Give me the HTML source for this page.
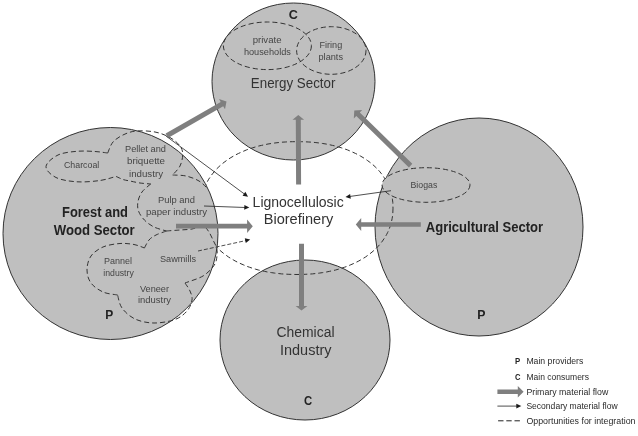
<!DOCTYPE html>
<html><head><meta charset="utf-8">
<style>
html,body{margin:0;padding:0;background:#fff;}
svg{display:block;filter:blur(0.35px);}
text{font-family:"Liberation Sans",sans-serif;}
.g{fill:#bfbfbf;stroke:#333;stroke-width:1;}
.d{fill:none;stroke:#333;stroke-width:1;stroke-dasharray:5 3;}
.df{fill:#bfbfbf;stroke:#333;stroke-width:1;stroke-dasharray:5 3;}
.a{fill:#7f7f7f;}
</style></head><body>
<svg width="638" height="436" viewBox="0 0 638 436">
<rect width="638" height="436" fill="#fff"/>
<ellipse class="g" cx="293.5" cy="81.5" rx="81.5" ry="78.5"/>
<ellipse class="g" cx="479" cy="227" rx="104" ry="109"/>
<ellipse class="g" cx="305" cy="340" rx="85" ry="80"/>
<path class="d" d="M393.0,208.1 L392.9,211.0 L392.8,213.7 L392.5,216.2 L392.1,218.7 L391.6,221.1 L391.1,223.5 L390.4,225.8 L389.5,228.1 L388.6,230.4 L387.6,232.6 L386.5,234.7 L385.3,236.9 L383.9,238.9 L382.5,241.0 L381.0,242.9 L379.4,244.9 L377.7,246.8 L375.9,248.6 L374.0,250.4 L372.0,252.1 L369.9,253.8 L367.7,255.4 L365.5,257.0 L363.1,258.5 L360.7,259.9 L358.2,261.3 L355.6,262.6 L353.0,263.8 L350.2,265.0 L347.5,266.2 L344.6,267.2 L341.7,268.2 L338.7,269.1 L335.6,270.0 L332.5,270.7 L329.3,271.4 L326.0,272.1 L322.7,272.6 L319.3,273.1 L315.9,273.5 L312.4,273.9 L308.8,274.1 L305.1,274.3 L301.3,274.4 L297.0,274.5 L292.7,274.4 L288.9,274.3 L285.2,274.1 L281.6,273.9 L278.1,273.5 L274.7,273.1 L271.3,272.6 L268.0,272.1 L264.7,271.4 L261.5,270.7 L258.4,270.0 L255.3,269.1 L252.3,268.2 L249.4,267.2 L246.5,266.2 L243.8,265.0 L241.0,263.8 L238.4,262.6 L235.8,261.3 L233.3,259.9 L230.9,258.5 L228.5,257.0 L226.3,255.4 L224.1,253.8 L222.0,252.1 L220.0,250.4 L218.1,248.6 L216.3,246.8 L214.6,244.9 L213.0,242.9 L211.5,241.0 L210.1,238.9 L208.7,236.9 L207.5,234.7 L206.4,232.6 L205.4,230.4 L204.5,228.1 L203.6,225.8 L202.9,223.5 L202.4,221.1 L201.9,218.7 L201.5,216.2 L201.2,213.7 L201.1,211.0 L201.0,208.1 L201.1,205.1 L201.2,202.4 L201.5,199.9 L201.9,197.4 L202.4,195.0 L202.9,192.6 L203.6,190.3 L204.5,188.0 L205.4,185.7 L206.4,183.5 L207.5,181.4 L208.7,179.2 L210.1,177.2 L211.5,175.1 L213.0,173.2 L214.6,171.2 L216.3,169.3 L218.1,167.5 L220.0,165.7 L222.0,164.0 L224.1,162.3 L226.3,160.7 L228.5,159.1 L230.9,157.6 L233.3,156.2 L235.8,154.8 L238.4,153.5 L241.0,152.3 L243.8,151.1 L246.5,149.9 L249.4,148.9 L252.3,147.9 L255.3,147.0 L258.4,146.1 L261.5,145.4 L264.7,144.7 L268.0,144.0 L271.3,143.5 L274.7,143.0 L278.1,142.6 L281.6,142.2 L285.2,142.0 L288.9,141.8 L292.7,141.7 L297.0,141.7 L301.3,141.7 L305.1,141.8 L308.8,142.0 L312.4,142.2 L315.9,142.6 L319.3,143.0 L322.7,143.5 L326.0,144.0 L329.3,144.7 L332.5,145.4 L335.6,146.1 L338.7,147.0 L341.7,147.9 L344.6,148.9 L347.5,149.9 L350.2,151.1 L353.0,152.3 L355.6,153.5 L358.2,154.8 L360.7,156.2 L363.1,157.6 L365.5,159.1 L367.7,160.7 L369.9,162.3 L372.0,164.0 L374.0,165.7 L375.9,167.5 L377.7,169.3 L379.4,171.2 L381.0,173.2 L382.5,175.1 L383.9,177.2 L385.3,179.2 L386.5,181.4 L387.6,183.5 L388.6,185.7 L389.5,188.0 L390.4,190.3 L391.1,192.6 L391.6,195.0 L392.1,197.4 L392.5,199.9 L392.8,202.4 L392.9,205.1 Z"/>
<ellipse class="g" cx="110.5" cy="233.5" rx="107.5" ry="106"/>
<ellipse class="d" cx="267.4" cy="45.8" rx="44" ry="23.8"/>
<ellipse class="d" cx="331.3" cy="50.5" rx="34.7" ry="23.8"/>
<ellipse class="df" cx="426" cy="185" rx="44" ry="17.3"/>
<path class="d" d="M107.7,153.0 C105.6,152.8 100.1,151.8 95.0,151.5 C89.9,151.2 83.2,150.7 77.0,151.3 C70.8,151.9 63.2,152.5 58.0,155.0 C52.8,157.5 46.3,162.8 46.0,166.5 C45.7,170.2 50.8,174.9 56.0,177.5 C61.2,180.1 69.7,181.3 77.0,181.8 C84.3,182.3 93.5,181.4 100.0,180.5 C106.5,179.6 113.3,177.1 116.0,176.4"/>
<path class="d" d="M116.0,176.4 C117.2,176.9 120.7,178.7 123.0,179.5 C125.3,180.3 127.2,180.4 130.0,181.0 C132.8,181.6 136.6,182.5 140.0,183.0 C143.4,183.5 148.9,183.8 150.7,184.0"/>
<path class="d" d="M150.7,184.0 C149.2,185.3 144.1,189.1 142.0,192.0 C139.9,194.9 138.6,198.3 138.0,201.5 C137.4,204.7 137.4,207.9 138.5,211.0 C139.6,214.1 141.8,217.3 144.4,220.0 C147.0,222.7 150.3,225.2 154.0,227.0 C157.7,228.8 164.3,230.3 166.4,231.0"/>
<path class="d" d="M107.7,153.0 C108.6,151.2 110.3,145.1 113.0,142.0 C115.7,138.9 120.1,136.3 124.0,134.5 C127.9,132.7 131.4,131.4 136.6,131.0 C141.8,130.6 149.4,130.9 155.0,132.0 C160.6,133.1 165.8,135.2 170.0,137.5 C174.2,139.8 177.9,143.2 180.0,146.0 C182.1,148.8 182.7,151.2 182.7,154.5 C182.7,157.8 181.7,162.6 180.0,166.0 C178.3,169.4 173.8,173.5 172.6,175.0"/>
<path class="d" d="M172.6,175.0 C174.8,175.2 181.6,175.0 186.0,176.0 C190.4,177.0 195.3,178.8 199.0,181.0 C202.7,183.2 206.5,187.7 208.0,189.0"/>
<path class="d" d="M166.4,231.0 C168.7,230.8 175.7,230.3 180.0,230.0 C184.3,229.7 188.8,229.6 192.0,229.0 C195.2,228.4 197.0,226.9 199.0,226.5 C201.0,226.1 202.3,225.4 204.0,226.3 C205.7,227.2 207.5,229.7 209.0,232.0 C210.5,234.3 211.8,237.4 213.0,240.0 C214.2,242.6 215.8,244.8 216.5,247.5 C217.2,250.2 217.4,253.0 217.0,256.0 C216.6,259.0 216.3,262.2 214.0,265.5 C211.7,268.8 207.8,273.1 203.0,276.0 C198.2,278.9 188.0,281.8 185.0,283.0"/>
<path class="d" d="M185.0,283.0 C185.8,284.3 188.8,288.2 190.0,291.0 C191.2,293.8 192.5,296.7 192.0,300.0 C191.5,303.3 189.8,307.8 187.0,311.0 C184.2,314.2 180.5,317.5 175.0,319.5 C169.5,321.5 160.7,323.1 154.0,323.0 C147.3,322.9 140.3,321.5 135.0,319.0 C129.7,316.5 124.9,312.0 122.0,308.0 C119.1,304.0 118.3,297.2 117.6,295.0"/>
<path class="d" d="M117.6,295.0 C115.2,294.5 107.4,294.0 103.0,292.0 C98.6,290.0 93.7,286.7 91.0,283.0 C88.3,279.3 87.0,274.5 87.0,270.0 C87.0,265.5 88.3,259.8 91.0,256.0 C93.7,252.2 98.2,249.1 103.0,247.0 C107.8,244.9 114.8,243.9 120.0,243.5 C125.2,243.1 129.9,243.8 134.0,244.5 C138.1,245.2 142.7,247.4 144.4,248.0"/>
<path class="d" d="M144.4,248.0 C145.2,246.7 147.1,242.2 149.0,240.0 C150.9,237.8 153.1,236.5 156.0,235.0 C158.9,233.5 164.7,231.7 166.4,231.0"/>
<g class="a">
<polygon points="168.0,137.9 223.2,106.3 225.0,109.3 226.5,101.5 219.0,98.9 220.7,101.9 165.6,133.5"/>
<polygon points="301.1,184.4 300.8,119.8 304.1,119.8 298.3,115.0 292.5,119.8 295.8,119.8 296.1,184.4"/>
<polygon points="412.3,163.8 359.8,112.4 362.2,109.9 354.3,110.6 353.8,118.5 356.3,116.0 408.9,167.4"/>
<polygon points="176.0,228.5 247.1,228.5 247.1,233.0 252.8,226.2 247.1,219.4 247.1,223.8 176.0,223.8"/>
<polygon points="420.8,222.2 361.2,222.2 361.2,217.9 355.8,224.5 361.2,231.1 361.2,226.8 420.8,226.8"/>
<polygon points="299.0,243.8 299.0,305.9 295.6,305.9 301.5,310.6 307.4,305.9 304.0,305.9 304.0,243.8"/>
<polygon points="497.4,394.0 517.8,394.0 517.8,397.5 523.6,391.7 517.8,385.9 517.8,389.4 497.4,389.4"/>
</g>
<line x1="166.0" y1="136.0" x2="244.8" y2="194.3" stroke="#222" stroke-width="0.8"/><polygon fill="#1a1a1a" points="248.0,196.7 242.6,195.7 245.4,191.8"/>
<line x1="204.0" y1="206.0" x2="245.3" y2="207.5" stroke="#222" stroke-width="0.8"/><polygon fill="#1a1a1a" points="249.3,207.6 244.2,209.8 244.4,205.0"/>
<line x1="198.0" y1="251.0" x2="246.3" y2="240.5" stroke="#222" stroke-width="0.8" stroke-dasharray="4 2"/><polygon fill="#1a1a1a" points="250.2,239.6 245.8,243.0 244.8,238.3"/>
<line x1="391.0" y1="190.7" x2="349.5" y2="196.5" stroke="#222" stroke-width="0.8"/><polygon fill="#1a1a1a" points="345.5,197.0 350.1,193.9 350.8,198.7"/>
<line x1="497.4" y1="406.1" x2="517.3" y2="406.1" stroke="#222" stroke-width="0.8"/><polygon fill="#1a1a1a" points="521.3,406.1 516.3,408.5 516.3,403.7"/>
<line x1="498.1" y1="420.8" x2="520" y2="420.8" stroke="#222" stroke-width="1" stroke-dasharray="5.4 2.8"/>
<text x="288.7" y="19.4" textLength="9.1" lengthAdjust="spacingAndGlyphs" style="font-size:13px;fill:#222;font-weight:bold;">C</text>
<text x="252.7" y="43.0" textLength="28.8" lengthAdjust="spacingAndGlyphs" style="font-size:9.5px;fill:#454545;">private</text>
<text x="243.9" y="55.0" textLength="47.0" lengthAdjust="spacingAndGlyphs" style="font-size:9.5px;fill:#454545;">households</text>
<text x="319.5" y="47.8" textLength="22.7" lengthAdjust="spacingAndGlyphs" style="font-size:9.5px;fill:#454545;">Firing</text>
<text x="318.5" y="59.6" textLength="24.5" lengthAdjust="spacingAndGlyphs" style="font-size:9.5px;fill:#454545;">plants</text>
<text x="250.8" y="87.8" textLength="84.6" lengthAdjust="spacingAndGlyphs" style="font-size:14px;fill:#333;">Energy Sector</text>
<text x="64.0" y="168.3" textLength="35.3" lengthAdjust="spacingAndGlyphs" style="font-size:9.5px;fill:#454545;">Charcoal</text>
<text x="125.0" y="152.0" textLength="41.0" lengthAdjust="spacingAndGlyphs" style="font-size:9.5px;fill:#454545;">Pellet and</text>
<text x="127.0" y="164.0" textLength="38.0" lengthAdjust="spacingAndGlyphs" style="font-size:9.5px;fill:#454545;">briquette</text>
<text x="129.0" y="177.0" textLength="34.0" lengthAdjust="spacingAndGlyphs" style="font-size:9.5px;fill:#454545;">industry</text>
<text x="158.0" y="203.0" textLength="37.0" lengthAdjust="spacingAndGlyphs" style="font-size:9.5px;fill:#454545;">Pulp and</text>
<text x="146.0" y="215.0" textLength="61.0" lengthAdjust="spacingAndGlyphs" style="font-size:9.5px;fill:#454545;">paper industry</text>
<text x="62.0" y="216.5" textLength="66.0" lengthAdjust="spacingAndGlyphs" style="font-size:14px;fill:#222;font-weight:bold;">Forest and</text>
<text x="53.8" y="235.0" textLength="80.9" lengthAdjust="spacingAndGlyphs" style="font-size:14px;fill:#222;font-weight:bold;">Wood Sector</text>
<text x="104.0" y="264.0" textLength="28.0" lengthAdjust="spacingAndGlyphs" style="font-size:9.5px;fill:#454545;">Pannel</text>
<text x="103.3" y="276.0" textLength="30.5" lengthAdjust="spacingAndGlyphs" style="font-size:9.5px;fill:#454545;">industry</text>
<text x="160.0" y="262.0" textLength="36.0" lengthAdjust="spacingAndGlyphs" style="font-size:9.5px;fill:#454545;">Sawmills</text>
<text x="140.0" y="291.7" textLength="29.0" lengthAdjust="spacingAndGlyphs" style="font-size:9.5px;fill:#454545;">Veneer</text>
<text x="138.0" y="303.4" textLength="33.0" lengthAdjust="spacingAndGlyphs" style="font-size:9.5px;fill:#454545;">industry</text>
<text x="105.3" y="319.0" textLength="8.0" lengthAdjust="spacingAndGlyphs" style="font-size:13.5px;fill:#222;font-weight:bold;">P</text>
<text x="252.6" y="206.6" textLength="91.1" lengthAdjust="spacingAndGlyphs" style="font-size:14px;fill:#333;">Lignocellulosic</text>
<text x="263.7" y="224.4" textLength="69.6" lengthAdjust="spacingAndGlyphs" style="font-size:14px;fill:#333;">Biorefinery</text>
<text x="410.5" y="187.7" textLength="26.8" lengthAdjust="spacingAndGlyphs" style="font-size:9.5px;fill:#454545;">Biogas</text>
<text x="425.8" y="232.0" textLength="117.2" lengthAdjust="spacingAndGlyphs" style="font-size:14px;fill:#222;font-weight:bold;">Agricultural Sector</text>
<text x="477.3" y="319.3" textLength="8.2" lengthAdjust="spacingAndGlyphs" style="font-size:13.5px;fill:#222;font-weight:bold;">P</text>
<text x="276.5" y="336.5" textLength="58.0" lengthAdjust="spacingAndGlyphs" style="font-size:14px;fill:#333;">Chemical</text>
<text x="280.0" y="354.5" textLength="51.5" lengthAdjust="spacingAndGlyphs" style="font-size:14px;fill:#333;">Industry</text>
<text x="304.0" y="405.0" textLength="8.2" lengthAdjust="spacingAndGlyphs" style="font-size:13.5px;fill:#222;font-weight:bold;">C</text>
<text x="515.0" y="364.4" textLength="5.2" lengthAdjust="spacingAndGlyphs" style="font-size:9.4px;fill:#222;font-weight:bold;">P</text>
<text x="515.0" y="379.6" textLength="5.5" lengthAdjust="spacingAndGlyphs" style="font-size:9.4px;fill:#222;font-weight:bold;">C</text>
<text x="526.4" y="363.9" textLength="56.9" lengthAdjust="spacingAndGlyphs" style="font-size:8.8px;fill:#2a2a2a;">Main providers</text>
<text x="526.4" y="379.5" textLength="62.6" lengthAdjust="spacingAndGlyphs" style="font-size:8.8px;fill:#2a2a2a;">Main consumers</text>
<text x="526.4" y="394.5" textLength="81.9" lengthAdjust="spacingAndGlyphs" style="font-size:8.8px;fill:#2a2a2a;">Primary material flow</text>
<text x="526.4" y="408.7" textLength="91.2" lengthAdjust="spacingAndGlyphs" style="font-size:8.8px;fill:#2a2a2a;">Secondary material flow</text>
<text x="526.4" y="423.5" textLength="109.1" lengthAdjust="spacingAndGlyphs" style="font-size:8.8px;fill:#2a2a2a;">Opportunities for integration</text>
</svg>
</body></html>
